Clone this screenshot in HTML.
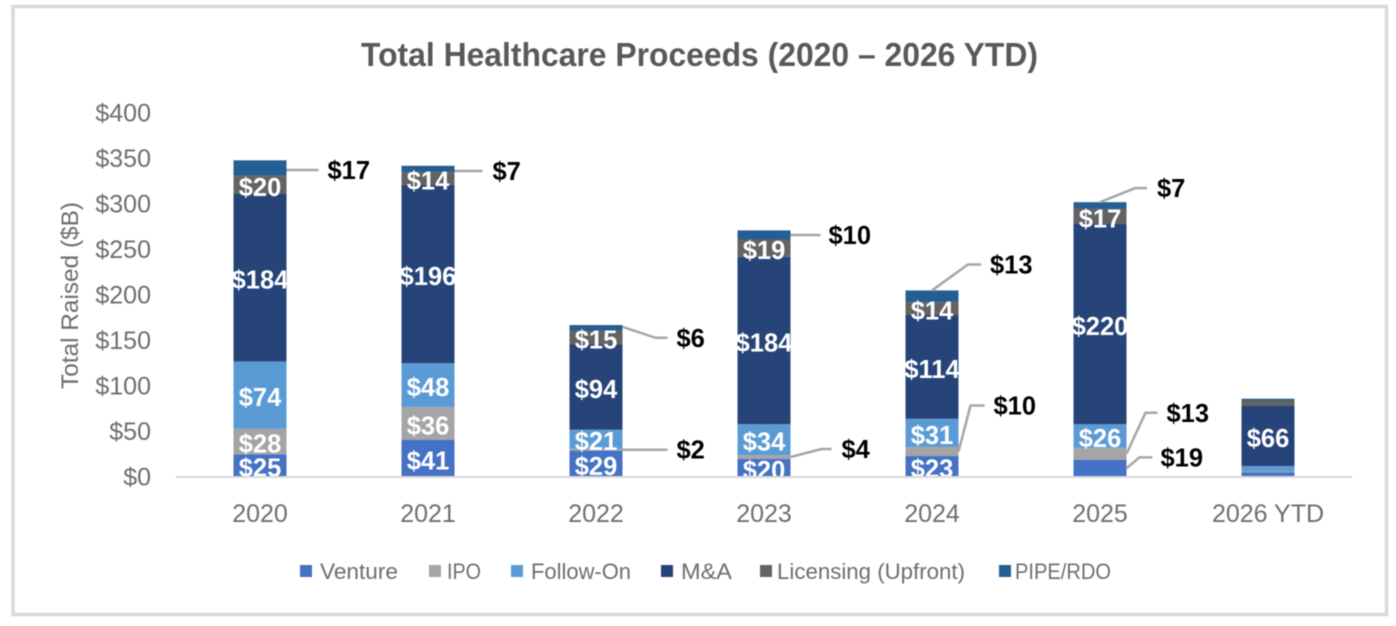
<!DOCTYPE html>
<html lang="en">
<head>
<meta charset="utf-8">
<title>Total Healthcare Proceeds (2020 – 2026 YTD)</title>
<style>
html,body{margin:0;padding:0;background:#fff;}
body{width:1396px;height:626px;overflow:hidden;}
svg{display:block;filter:blur(0.45px);font-family:"Liberation Sans",sans-serif;}
</style>
</head>
<body>
<svg id="chart" width="1396" height="626" viewBox="0 0 1396 626" xmlns="http://www.w3.org/2000/svg">
  <rect x="13" y="6.5" width="1373.5" height="608" fill="#fff" stroke="#D9D9D9" stroke-width="3.5"/>
  <text x="361" y="66" font-size="33" font-weight="700" fill="#595959" textLength="677" lengthAdjust="spacingAndGlyphs">Total Healthcare Proceeds (2020 – 2026 YTD)</text>
  <text transform="translate(78 389) rotate(-90)" font-size="24" fill="#6e6e6e" textLength="187" lengthAdjust="spacingAndGlyphs">Total Raised ($B)</text>
  <g id="plot"></g>
  <g font-size="22" fill="#6e6e6e">
    <g><rect x="300" y="565" width="12" height="12" fill="#4472C4"/><text x="320" y="579" textLength="78" lengthAdjust="spacingAndGlyphs">Venture</text></g>
    <g><rect x="429" y="565" width="12" height="12" fill="#A5A5A5"/><text x="447" y="579" textLength="34" lengthAdjust="spacingAndGlyphs">IPO</text></g>
    <g><rect x="511" y="565" width="12" height="12" fill="#5B9BD5"/><text x="531" y="579" textLength="100" lengthAdjust="spacingAndGlyphs">Follow-On</text></g>
    <g><rect x="661" y="565" width="12" height="12" fill="#264478"/><text x="681" y="579" textLength="51" lengthAdjust="spacingAndGlyphs">M&amp;A</text></g>
    <g><rect x="760" y="565" width="12" height="12" fill="#636363"/><text x="777" y="579" textLength="188" lengthAdjust="spacingAndGlyphs">Licensing (Upfront)</text></g>
    <g><rect x="999" y="565" width="12" height="12" fill="#255E91"/><text x="1015" y="579" textLength="96" lengthAdjust="spacingAndGlyphs">PIPE/RDO</text></g>
  </g>
</svg>
<script>
const categories = ["2020", "2021", "2022", "2023", "2024", "2025", "2026 YTD"];
const seriesNames = ["venture", "ipo", "follow-on", "m-and-a", "licensing", "pipe-rdo"];
const venture = [25, 41, 29, 20, 23, 19, 5];
const ipo = [28, 36, 2, 4, 10, 13, 1];
const followOn = [74, 48, 21, 34, 31, 26, 6];
const mna = [184, 196, 94, 184, 114, 220, 66];
const licensing = [20, 14, 15, 19, 14, 17, 6];
const pipeRdo = [17, 7, 6, 10, 13, 7, 2];
const yTicks = [0, 50, 100, 150, 200, 250, 300, 350, 400];

const seriesColors = ["#4472C4", "#A5A5A5", "#5B9BD5", "#264478", "#636363", "#255E91"];
/* Leader-line styling: category, series, attach mode, then offsets from the attach point */
const calloutStyle = [
  {c:0,s:5,mode:"side",sy:2,ex:0,ey:2,ox:32,oy:2,gap:9},
  {c:1,s:5,mode:"side",sy:2,ex:0,ey:2,ox:28,oy:2,gap:10},
  {c:2,s:5,mode:"side",sy:-1,ex:33,ey:10,ox:45,oy:10,gap:9},
  {c:2,s:1,mode:"side",sy:0,ex:0,ey:0,ox:45,oy:0,gap:9},
  {c:3,s:5,mode:"side",sy:0,ex:0,ey:0,ox:30,oy:0,gap:8},
  {c:3,s:1,mode:"side",sy:0,ex:31,ey:-8,ox:41,oy:-8,gap:10},
  {c:4,s:5,mode:"top",sy:0,ex:36,ey:-26,ox:49,oy:-26,gap:9},
  {c:4,s:1,mode:"side",sy:0,ex:12,ey:-46,ox:26,oy:-46,gap:9},
  {c:5,s:5,mode:"top",sy:0,ex:35,ey:-14,ox:47,oy:-14,gap:10},
  {c:5,s:1,mode:"side",sy:0,ex:19,ey:-41,ox:31,oy:-41,gap:9},
  {c:5,s:0,mode:"side",sy:0,ex:13,ey:-11,ox:26,oy:-11,gap:8}
];

const allSeries = [venture, ipo, followOn, mna, licensing, pipeRdo];
const SVGNS = "http://www.w3.org/2000/svg";
const plot = document.getElementById("plot");
const plotLeft = 176, plotRight = 1352, plotBottom = 477, plotTop = 113, yMax = 400, barWidth = 53;
const yScale = function (v) { return plotBottom - (v / yMax) * (plotBottom - plotTop); };
const band = (plotRight - plotLeft) / categories.length;
const xCenter = function (i) { return plotLeft + band * (i + 0.5); };

function make(tag, attrs, text) {
  const el = document.createElementNS(SVGNS, tag);
  for (const k in attrs) el.setAttribute(k, attrs[k]);
  if (text !== undefined) el.textContent = text;
  plot.appendChild(el);
  return el;
}

/* y-axis tick labels */
yTicks.forEach(function (t) {
  const el = make("text", {x: 151, y: yScale(t) + 8.7, "text-anchor": "end", "font-size": 25, fill: "#6e6e6e"}, "$" + t);
  
  
});

/* stacked bars */
const calloutKeys = calloutStyle.map(function (k) { return k.c + ":" + k.s; });
const pendingLabels = [];
categories.forEach(function (cat, c) {
  let base = 0;
  allSeries.forEach(function (values, s) {
    const v = values[c];
    const top = yScale(base + v);
    const bottom = yScale(base);
    const bar = make("rect", {x: xCenter(c) - barWidth / 2, y: top, width: barWidth, height: bottom - top, fill: seriesColors[s]});
    
    
    if (v >= 14 && calloutKeys.indexOf(c + ":" + s) < 0) {
      pendingLabels.push({x: xCenter(c), y: (top + bottom) / 2 + 11, v: v});
    }
    base += v;
  });
  const xl = make("text", {x: xCenter(c), y: 522, "text-anchor": "middle", "font-size": 25, fill: "#6e6e6e"}, cat);
  
  
});

/* in-bar value labels */
pendingLabels.forEach(function (p) {
  const el = make("text", {x: p.x, y: p.y, "text-anchor": "middle", "font-size": 25.5, "font-weight": 700, fill: "#fff"}, "$" + p.v);
  
  
});

/* baseline */
const axis = make("line", {x1: plotLeft, x2: plotRight, y1: plotBottom, y2: plotBottom, stroke: "#D9D9D9", "stroke-width": 2});



/* callouts with leader lines */
calloutStyle.forEach(function (k) {
  const v = allSeries[k.s][k.c];
  let base = 0;
  for (let i = 0; i < k.s; i++) base += allSeries[i][k.c];
  let ax, ay;
  if (k.mode === "top") {
    ax = xCenter(k.c);
    ay = yScale(base + v);
  } else {
    ax = xCenter(k.c) + barWidth / 2;
    ay = yScale(base + v / 2);
  }
  const pts = [[ax, ay + k.sy], [ax + k.ex, ay + k.ey], [ax + k.ox, ay + k.oy]];
  const leader = make("polyline", {points: pts.map(function (p) { return p.join(","); }).join(" "), fill: "none", stroke: "#A6A6A6", "stroke-width": 2.5});
  
  
  const label = make("text", {x: ax + k.ox + k.gap, y: ay + k.oy + 9, "font-size": 25.5, "font-weight": 700, fill: "#000"}, "$" + v);
  
  
});
</script>
</body>
</html>
